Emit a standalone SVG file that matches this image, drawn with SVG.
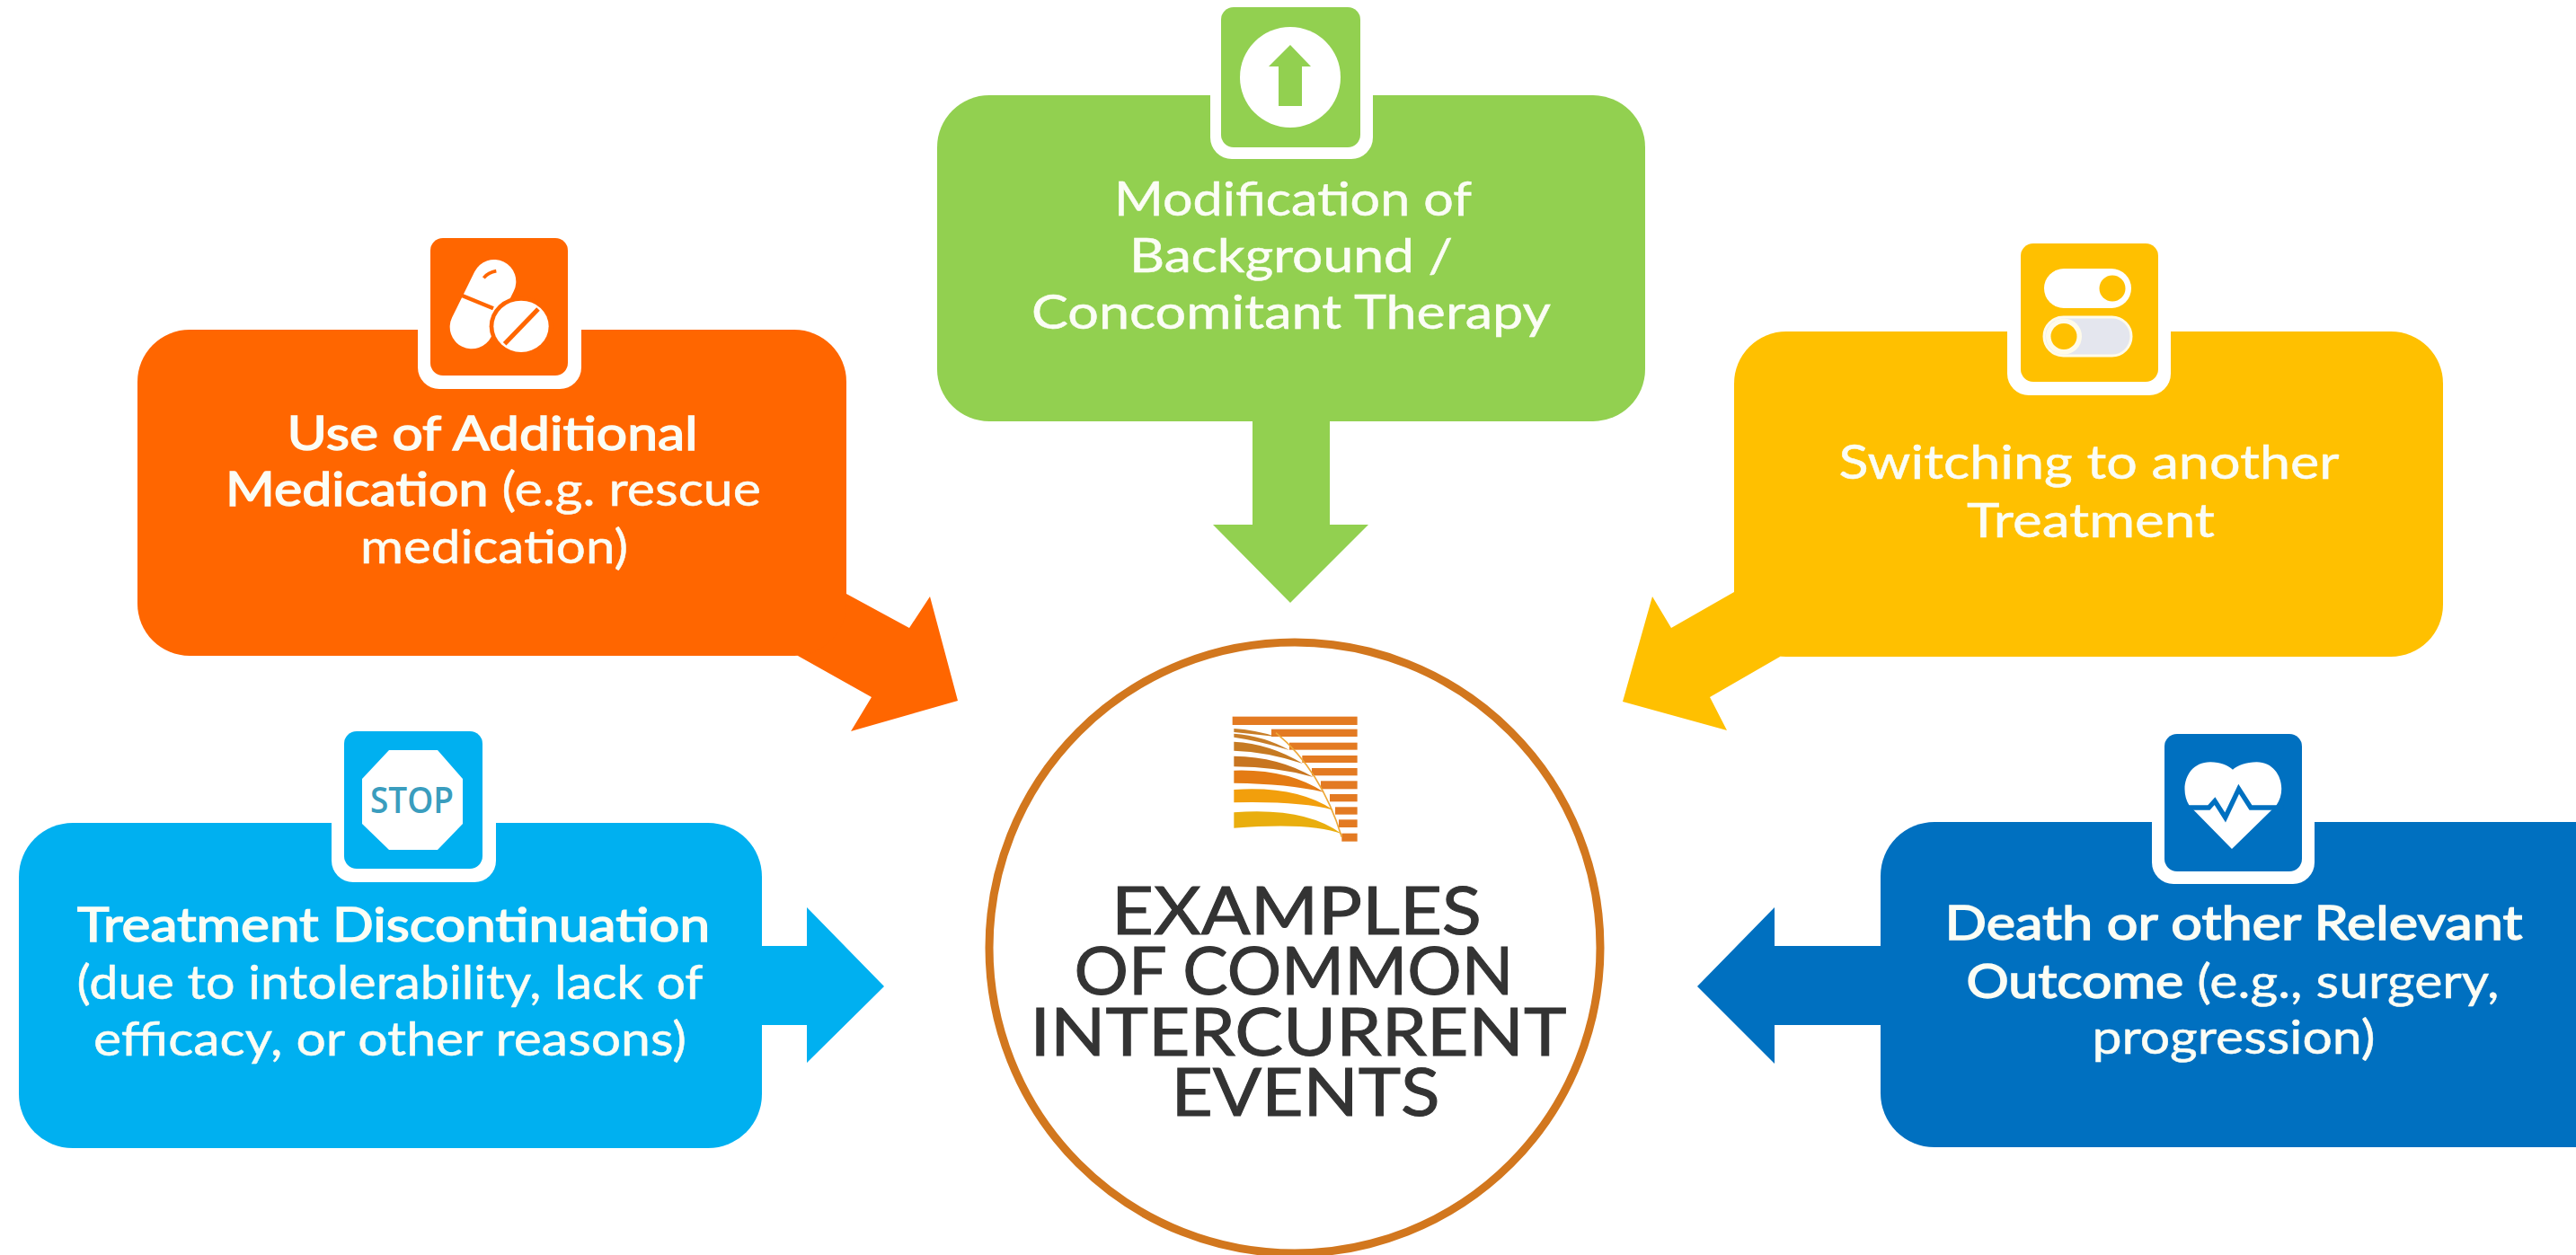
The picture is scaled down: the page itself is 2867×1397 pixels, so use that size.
<svg xmlns="http://www.w3.org/2000/svg" width="2867" height="1397" viewBox="0 0 2867 1397">
<style>
.t{font-family:"Lato","Open Sans","Liberation Sans",sans-serif;font-size:53px;fill:#FBFDF5;stroke:#FBFDF5;stroke-width:.5px;text-anchor:middle}
.b{stroke-width:1.500px}
.h{font-family:"Lato","Open Sans","Liberation Sans",sans-serif;font-size:74px;fill:#333333;stroke:#333333;stroke-width:1px;text-anchor:middle}
.n{fill:#fff}
.g{fill:#92D050}.o{fill:#FF6600}.y{fill:#FFC000}.l{fill:#00B0F0}.d{fill:#0070C0}
.s{fill:#E37A22}
</style>
<rect width="2867" height="1397" fill="#fff"/>
<g id="connectors">
<polygon class="g" points="1394,460 1480,460 1480,584 1523,584 1436,671 1350,584 1394,584"/>
<polygon class="o" points="930,650 942,661 1012,699 1035,664 1066,780 947,814 970,776 888,730 870,700"/>
<polygon class="y" points="1942,650 1930,659 1860,699 1839,664 1806,781 1922,813 1903,776 1981,731 2000,700"/>
<polygon class="l" points="840,1053 898,1053 898,1010 984,1098 898,1183 898,1141 840,1141"/>
<polygon class="d" points="2100,1053 1975,1053 1975,1010 1889,1098 1975,1184 1975,1141 2100,1141"/>
</g>
<g id="node-modification">
<rect class="g" x="1043" y="106" width="788" height="363" rx="58"/>
<rect class="n" x="1347" y="60" width="181" height="117" rx="24"/>
<rect class="g" x="1359" y="8" width="155" height="156" rx="14"/>
<circle class="n" cx="1436" cy="86" r="56"/>
<polygon class="g" points="1436,50 1459,74 1449,74 1449,118 1423,118 1423,74 1412,74"/>
<text class="t" x="1439" y="240" textLength="398" lengthAdjust="spacingAndGlyphs">Modification of</text>
<text class="t" x="1437" y="303" textLength="360" lengthAdjust="spacingAndGlyphs">Background /</text>
<text class="t" x="1437" y="366" textLength="578" lengthAdjust="spacingAndGlyphs">Concomitant Therapy</text>
</g>
<g id="node-additional-medication">
<rect class="o" x="153" y="367" width="789" height="363" rx="58"/>
<rect class="n" x="465" y="330" width="182" height="103" rx="24"/>
<rect class="o" x="479" y="265" width="153" height="153" rx="14"/>
<g transform="translate(475 260) scale(.3333)">
<path d="M225,160 L150,312" fill="none" stroke="#fff" stroke-width="146" stroke-linecap="round"/>
<path d="M116,206 L222,250" fill="none" stroke="#FF6600" stroke-width="13"/>
<path d="M190,148 Q205,130 232,125" fill="none" stroke="#FF6600" stroke-width="11"/>
<ellipse cx="315" cy="310" rx="106" ry="100" fill="#FF6600"/>
<ellipse class="n" cx="315" cy="310" rx="92" ry="86"/>
<path d="M260,368 L372,252" stroke="#FF6600" stroke-width="15"/>
</g>
<text class="t b" x="548" y="501" textLength="457" lengthAdjust="spacingAndGlyphs">Use of Additional</text>
<text class="t" x="549" y="563" textLength="596" lengthAdjust="spacingAndGlyphs"><tspan class="b">Medication</tspan> (e.g. rescue</text>
<text class="t" x="550" y="627" textLength="298" lengthAdjust="spacingAndGlyphs">medication)</text>
</g>
<g id="node-switching">
<rect class="y" x="1930" y="369" width="789" height="362" rx="58"/>
<rect class="n" x="2234" y="330" width="182" height="110" rx="24"/>
<rect class="y" x="2249" y="271" width="153" height="154" rx="14"/>
<rect class="n" x="2275" y="299" width="97" height="44" rx="22"/>
<circle class="y" cx="2351" cy="321" r="14.500"/>
<rect x="2275" y="353" width="97" height="43" rx="21.500" fill="#E4E6EE" stroke="#FFFBEA" stroke-width="3"/>
<circle cx="2297" cy="374.500" r="20" fill="#FFFBEA"/>
<circle class="y" cx="2297" cy="374.500" r="14.500"/>
<text class="t" x="2325" y="533" textLength="557" lengthAdjust="spacingAndGlyphs">Switching to another</text>
<text class="t" x="2327" y="598" textLength="276" lengthAdjust="spacingAndGlyphs">Treatment</text>
</g>
<g id="node-discontinuation">
<rect class="l" x="21" y="916" width="827" height="362" rx="60"/>
<rect class="n" x="369" y="880" width="183" height="102" rx="24"/>
<rect class="l" x="383" y="814" width="154" height="153" rx="14"/>
<polygon class="n" points="433,835 487,835 515,867 515,917 487,946 433,946 403,917 403,867"/>
<text x="458.500" y="905" font-family="'Open Sans','Liberation Sans',sans-serif" font-weight="600" font-size="39" fill="#3A9DBE" text-anchor="middle" textLength="93" lengthAdjust="spacingAndGlyphs">STOP</text>
<text class="t b" x="438" y="1048" textLength="704" lengthAdjust="spacingAndGlyphs">Treatment Discontinuation</text>
<text class="t" x="434" y="1112" textLength="697" lengthAdjust="spacingAndGlyphs">(due to intolerability, lack of</text>
<text class="t" x="434" y="1175" textLength="660" lengthAdjust="spacingAndGlyphs">efficacy, or other reasons)</text>
</g>
<g id="node-death">
<path class="d" d="M2153,915 H2867 V1277 H2153 A60,60 0 0 1 2093,1217 V975 A60,60 0 0 1 2153,915 Z"/>
<rect class="n" x="2395" y="880" width="181" height="104" rx="24"/>
<rect class="d" x="2409" y="817" width="153" height="153" rx="14"/>
<g transform="translate(2405 815) scale(.3333)">
<path class="n" d="M237,390 L95,245 C60,190 85,100 165,100 C200,100 225,112 240,125 C255,112 285,100 320,100 C395,100 425,190 385,245 Z"/>
<path d="M70,252 H160 L180,230 L215,285 L260,190 L300,252 H410" fill="none" stroke="#0070C0" stroke-width="16"/>
</g>
<text class="t b" x="2486" y="1046" textLength="643" lengthAdjust="spacingAndGlyphs">Death or other Relevant</text>
<text class="t" x="2485" y="1111" textLength="593" lengthAdjust="spacingAndGlyphs"><tspan class="b">Outcome</tspan> (e.g., surgery,</text>
<text class="t" x="2486" y="1173" textLength="315" lengthAdjust="spacingAndGlyphs">progression)</text>
</g>
<g id="node-center">
<circle cx="1441" cy="1055" r="340" fill="#fff" stroke="#D2771E" stroke-width="9"/>
<g id="logo" transform="translate(1360 785) scale(.3333)">
<rect class="s" x="35" y="38" width="417" height="28"/>
<rect class="s" x="165" y="80" width="287" height="25"/>
<rect class="s" x="225" y="125" width="227" height="24"/>
<rect class="s" x="268" y="168" width="184" height="24"/>
<rect class="s" x="300" y="210" width="152" height="25"/>
<rect class="s" x="330" y="253" width="122" height="27"/>
<rect class="s" x="360" y="297" width="92" height="25"/>
<rect class="s" x="378" y="340" width="74" height="25"/>
<rect class="s" x="390" y="382" width="62" height="26"/>
<rect class="s" x="400" y="428" width="52" height="27"/>
<path d="M180,92 Q330,215 400,440" fill="none" stroke="#EDA838" stroke-width="5"/>
<path fill="#C87E28" d="M40,78 Q110,82 180,105 Q110,97 40,90 Z"/>
<path fill="#C87E28" d="M40,95 Q140,102 225,150 Q130,120 40,107 Z"/>
<path fill="#C67A22" d="M40,122 Q160,128 270,195 Q150,155 40,152 Z"/>
<path fill="#C87520" d="M40,170 Q190,172 305,240 Q180,205 40,205 Z"/>
<path fill="#E47B14" d="M40,218 Q220,212 340,290 Q220,262 40,260 Z"/>
<path fill="#F29F0C" d="M40,282 Q250,268 372,350 Q260,320 40,325 Z"/>
<path fill="#E9AE0E" d="M40,358 Q280,340 400,430 Q300,390 40,410 Z"/>
</g>
<text class="h" x="1443" y="1040" textLength="412" lengthAdjust="spacingAndGlyphs">EXAMPLES</text>
<text class="h" x="1440" y="1107" textLength="489" lengthAdjust="spacingAndGlyphs">OF COMMON</text>
<text class="h" x="1445" y="1175" textLength="597" lengthAdjust="spacingAndGlyphs">INTERCURRENT</text>
<text class="h" x="1453" y="1242" textLength="299" lengthAdjust="spacingAndGlyphs">EVENTS</text>
</g>
</svg>
